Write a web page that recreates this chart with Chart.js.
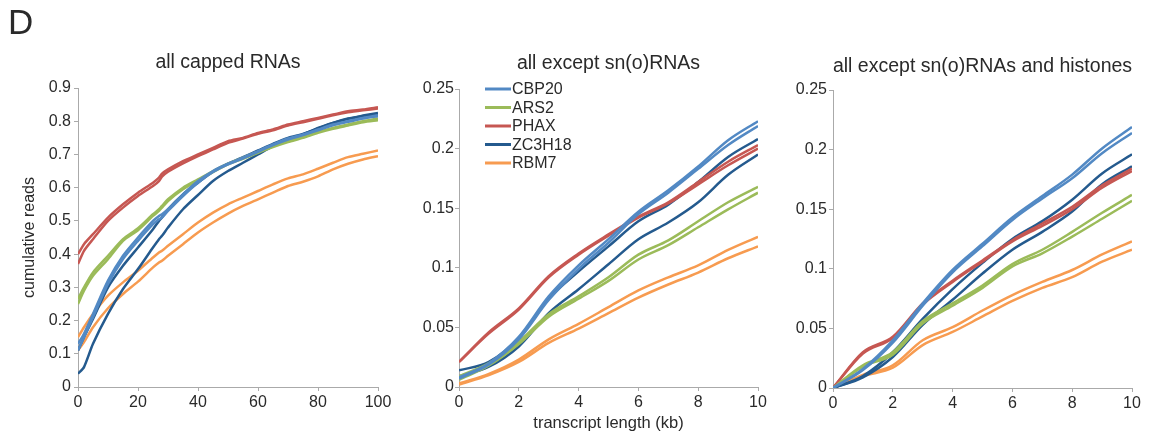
<!DOCTYPE html>
<html>
<head>
<meta charset="utf-8">
<script src="https://cdn.jsdelivr.net/npm/chart.js@4/dist/chart.umd.min.js"></script>
<style>
    body { margin: 0; background: #fff; }
    #page { position: relative; width: 1151px; height: 437px; overflow: hidden; }
    canvas { position: absolute; top: 0; }
</style>
</head>
<body>
<div id="page">
    <canvas id="cappedChart" width="400" height="437" style="left:0px"></canvas>
    <canvas id="snoChart" width="400" height="437" style="left:390px"></canvas>
    <canvas id="histChart" width="381" height="437" style="left:770px"></canvas>
</div>
<script>
// Данные

const proteins = ['CBP20', 'ARS2', 'PHAX', 'ZC3H18', 'RBM7'];

// all capped RNAs, x = %
const cappedX = [0, 2, 5, 10, 15, 20, 25, 27, 28, 30, 35, 40, 45, 50, 55, 60, 65, 70, 75, 80, 85, 90, 95, 100];
const capCBP20a = [0.13, 0.16, 0.22, 0.32, 0.395, 0.45, 0.50, 0.515, 0.52, 0.535, 0.58, 0.62, 0.65, 0.672, 0.69, 0.71, 0.73, 0.748, 0.76, 0.775, 0.79, 0.80, 0.81, 0.818];
const capCBP20b = [0.11, 0.15, 0.21, 0.31, 0.385, 0.44, 0.49, 0.505, 0.51, 0.53, 0.575, 0.615, 0.647, 0.67, 0.688, 0.708, 0.728, 0.745, 0.758, 0.773, 0.788, 0.798, 0.808, 0.815];
const capARS2a = [0.265, 0.30, 0.345, 0.395, 0.445, 0.478, 0.52, 0.535, 0.545, 0.565, 0.60, 0.625, 0.65, 0.672, 0.69, 0.708, 0.725, 0.74, 0.752, 0.768, 0.78, 0.79, 0.80, 0.808];
const capARS2b = [0.25, 0.29, 0.335, 0.385, 0.44, 0.472, 0.515, 0.53, 0.54, 0.56, 0.595, 0.622, 0.647, 0.67, 0.687, 0.705, 0.722, 0.737, 0.75, 0.765, 0.777, 0.787, 0.797, 0.803];
const capPHAXa = [0.40, 0.43, 0.46, 0.51, 0.55, 0.585, 0.615, 0.63, 0.642, 0.655, 0.68, 0.70, 0.72, 0.74, 0.75, 0.765, 0.775, 0.79, 0.80, 0.81, 0.82, 0.83, 0.835, 0.842];
const capPHAXb = [0.37, 0.41, 0.445, 0.50, 0.54, 0.575, 0.605, 0.62, 0.633, 0.648, 0.673, 0.695, 0.715, 0.735, 0.748, 0.762, 0.773, 0.787, 0.797, 0.807, 0.818, 0.827, 0.833, 0.838];
const capZC3H18a = [0.04, 0.06, 0.13, 0.22, 0.295, 0.355, 0.42, 0.445, 0.455, 0.48, 0.535, 0.578, 0.62, 0.65, 0.675, 0.70, 0.725, 0.745, 0.76, 0.78, 0.795, 0.807, 0.815, 0.822];
const capZC3H18b = [0.11, 0.15, 0.205, 0.30, 0.365, 0.42, 0.475, 0.50, 0.51, 0.535, 0.58, 0.615, 0.648, 0.672, 0.692, 0.712, 0.732, 0.75, 0.762, 0.778, 0.795, 0.808, 0.817, 0.825];
const capRBM7a = [0.15, 0.18, 0.22, 0.275, 0.315, 0.35, 0.39, 0.405, 0.41, 0.425, 0.46, 0.495, 0.525, 0.55, 0.57, 0.59, 0.61, 0.628, 0.64, 0.657, 0.675, 0.692, 0.702, 0.712];
const capRBM7b = [0.11, 0.135, 0.18, 0.237, 0.28, 0.317, 0.36, 0.375, 0.38, 0.395, 0.43, 0.465, 0.495, 0.522, 0.545, 0.565, 0.585, 0.605, 0.618, 0.634, 0.655, 0.672, 0.685, 0.695];

// transcript length, kb
const kbX = [0, 1, 2, 3, 4, 5, 6, 7, 8, 9, 10];

// all except sn(o)RNAs
const snoCBP20a = [0.008, 0.020, 0.042, 0.076, 0.102, 0.124, 0.147, 0.165, 0.185, 0.207, 0.223];
const snoCBP20b = [0.007, 0.019, 0.040, 0.073, 0.099, 0.121, 0.145, 0.163, 0.183, 0.203, 0.219];
const snoARS2a = [0.009, 0.020, 0.038, 0.061, 0.076, 0.092, 0.111, 0.123, 0.139, 0.155, 0.168];
const snoARS2b = [0.006, 0.018, 0.036, 0.059, 0.074, 0.089, 0.107, 0.119, 0.134, 0.149, 0.163];
const snoPHAXa = [0.021, 0.046, 0.066, 0.093, 0.112, 0.128, 0.143, 0.155, 0.172, 0.189, 0.203];
const snoPHAXb = [0.021, 0.045, 0.065, 0.092, 0.111, 0.127, 0.142, 0.154, 0.170, 0.186, 0.200];
const snoZC3H18a = [0.014, 0.021, 0.041, 0.074, 0.097, 0.118, 0.139, 0.153, 0.172, 0.193, 0.208];
const snoZC3H18b = [0.009, 0.017, 0.034, 0.062, 0.082, 0.103, 0.124, 0.138, 0.155, 0.178, 0.195];
const snoRBM7a = [0.003, 0.011, 0.023, 0.040, 0.053, 0.067, 0.081, 0.092, 0.102, 0.115, 0.126];
const snoRBM7b = [0.002, 0.010, 0.021, 0.037, 0.049, 0.062, 0.075, 0.086, 0.096, 0.108, 0.118];

// all except sn(o)RNAs and histones
const histCBP20a = [0, 0.016, 0.040, 0.071, 0.099, 0.121, 0.143, 0.161, 0.179, 0.201, 0.219];
const histCBP20b = [0, 0.015, 0.038, 0.069, 0.097, 0.119, 0.141, 0.159, 0.176, 0.197, 0.214];
const histARS2a = [0, 0.019, 0.030, 0.056, 0.071, 0.086, 0.104, 0.116, 0.131, 0.147, 0.162];
const histARS2b = [0, 0.018, 0.028, 0.054, 0.069, 0.084, 0.102, 0.113, 0.127, 0.142, 0.157];
const histPHAXa = [0, 0.030, 0.043, 0.071, 0.090, 0.107, 0.124, 0.138, 0.152, 0.170, 0.184];
const histPHAXb = [0, 0.029, 0.042, 0.070, 0.089, 0.106, 0.123, 0.136, 0.150, 0.168, 0.182];
const histZC3H18a = [0, 0.010, 0.030, 0.058, 0.083, 0.105, 0.125, 0.140, 0.158, 0.180, 0.196];
const histZC3H18b = [0, 0.009, 0.026, 0.053, 0.074, 0.096, 0.116, 0.131, 0.148, 0.171, 0.186];
const histRBM7a = [0, 0.011, 0.019, 0.040, 0.051, 0.065, 0.078, 0.089, 0.099, 0.112, 0.123];
const histRBM7b = [0, 0.010, 0.017, 0.036, 0.047, 0.060, 0.073, 0.084, 0.093, 0.106, 0.116];

const cappedTicks = [0, 20, 40, 60, 80, 100];
const kbTicks = [0, 2, 4, 6, 8, 10];

// Стиль

const colors = ['#5289c4', '#9bbb59', '#c65752', '#245a8e', '#f79b50'];
const font = 'Liberation Sans, Arial, sans-serif';
const textColor = '#2a2a2a';
const axisColor = '#aaaaaa';

function makeDatasets(xs, series, smooth) {
    const sets = [];
    series.forEach((pair, i) => {
        pair.forEach((ys) => {
            sets.push({
                label: proteins[i],
                data: ys.map((y, k) => ({ x: xs[k], y: y })),
                borderColor: colors[i],
                backgroundColor: colors[i],
                borderWidth: 2.5,
                pointRadius: 0,
                tension: smooth ? 0 : 0.25,
                cubicInterpolationMode: smooth ? 'monotone' : 'default',
                fill: false,
            });
        });
    });
    return sets;
}

// подписи панелей и легенда
const panelText = {
    id: 'panelText',
    afterDraw(chart, args, opts) {
        const ctx = chart.ctx;
        const area = chart.chartArea;
        ctx.save();
        ctx.fillStyle = textColor;
        ctx.font = '19.5px ' + font;
        ctx.textAlign = 'center';
        ctx.textBaseline = 'middle';
        ctx.fillText(opts.title, (area.left + area.right) / 2, opts.titleY);
        if (opts.letter) {
            ctx.font = '35px ' + font;
            ctx.textAlign = 'left';
            ctx.textBaseline = 'alphabetic';
            ctx.fillText(opts.letter, 8, 34);
        }
        if (opts.legend) {
            ctx.font = '16px ' + font;
            ctx.textAlign = 'left';
            ctx.textBaseline = 'middle';
            proteins.forEach((name, i) => {
                const y = area.top + i * 18.5;
                ctx.strokeStyle = colors[i];
                ctx.lineWidth = 3;
                ctx.beginPath();
                ctx.moveTo(area.left + 26, y);
                ctx.lineTo(area.left + 52, y);
                ctx.stroke();
                ctx.fillText(name, area.left + 53, y + 1);
            });
        }
        ctx.restore();
    }
};

function makeConfig(p) {
    return {
        type: 'line',
        data: { datasets: makeDatasets(p.xs, p.series, p.smooth) },
        options: {
            responsive: false,
            animation: false,
            layout: { padding: { top: p.top, right: p.right, bottom: 0, left: 0 } },
            plugins: {
                legend: { display: false },
                tooltip: { enabled: false },
                panelText: { title: p.title, titleY: p.titleY, letter: p.letter, legend: p.legend },
            },
            scales: {
                x: {
                    type: 'linear',
                    min: p.xs[0],
                    max: p.xs[p.xs.length - 1],
                    afterBuildTicks: (s) => { s.ticks = p.xTicks.map(v => ({ value: v })); },
                    afterFit: (s) => { s.height = p.xHeight; },
                    grid: { drawOnChartArea: false, tickLength: 4, color: axisColor },
                    border: { color: axisColor, width: 1 },
                    ticks: { color: textColor, font: { family: font, size: 16 }, maxRotation: 0, padding: 2 },
                    title: {
                        display: !!p.xTitle,
                        text: p.xTitle || '',
                        color: textColor,
                        font: { family: font, size: 16.5 },
                        padding: { top: 0, bottom: 4 },
                    },
                },
                y: {
                    min: 0,
                    max: p.yMax,
                    afterFit: (s) => { s.width = p.yWidth; },
                    grid: { drawOnChartArea: false, tickLength: 4, color: axisColor },
                    border: { color: axisColor, width: 1 },
                    ticks: {
                        stepSize: p.yStep,
                        color: textColor,
                        font: { family: font, size: 16 },
                        padding: p.yPad,
                        callback: (v) => String(+v.toFixed(2)),
                    },
                    title: {
                        display: !!p.yTitle,
                        text: p.yTitle || '',
                        color: textColor,
                        font: { family: font, size: 16 },
                        padding: { top: 20, bottom: 0 },
                    },
                },
            },
        },
        plugins: [panelText],
    };
}

// Панель 1

new Chart(document.getElementById('cappedChart'), makeConfig({
    xs: cappedX,
    series: [[capCBP20a, capCBP20b], [capARS2a, capARS2b], [capPHAXa, capPHAXb], [capZC3H18a, capZC3H18b], [capRBM7a, capRBM7b]],
    smooth: false,
    title: 'all capped RNAs', titleY: 63, letter: 'D',
    xTicks: cappedTicks, yMax: 0.9, yStep: 0.1,
    yTitle: 'cumulative reads',
    top: 88, right: 22, yWidth: 78, xHeight: 50, yPad: 3,
}));

// Панель 2

new Chart(document.getElementById('snoChart'), makeConfig({
    xs: kbX,
    series: [[snoCBP20a, snoCBP20b], [snoARS2a, snoARS2b], [snoPHAXa, snoPHAXb], [snoZC3H18a, snoZC3H18b], [snoRBM7a, snoRBM7b]],
    smooth: true,
    title: 'all except sn(o)RNAs', titleY: 64, legend: true,
    xTicks: kbTicks, yMax: 0.25, yStep: 0.05,
    xTitle: 'transcript length (kb)',
    top: 89, right: 32, yWidth: 69, xHeight: 50, yPad: 1,
}));

// Панель 3

new Chart(document.getElementById('histChart'), makeConfig({
    xs: kbX,
    series: [[histCBP20a, histCBP20b], [histARS2a, histARS2b], [histPHAXa, histPHAXb], [histZC3H18a, histZC3H18b], [histRBM7a, histRBM7b]],
    smooth: true,
    title: 'all except sn(o)RNAs and histones', titleY: 67,
    xTicks: kbTicks, yMax: 0.25, yStep: 0.05,
    top: 90, right: 19, yWidth: 63, xHeight: 49, yPad: 2,
}));
</script>
</body>
</html>
